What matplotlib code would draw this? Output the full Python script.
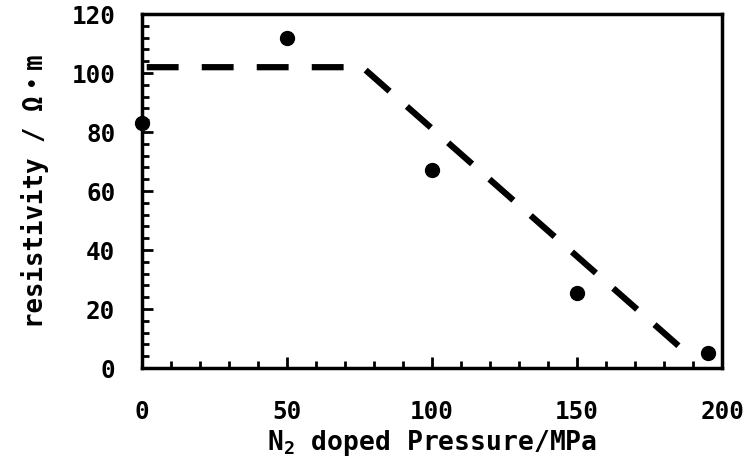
import matplotlib
matplotlib.use("Agg")
import matplotlib.pyplot as plt
from matplotlib.ticker import MultipleLocator

plt.rcParams['font.family'] = ['DejaVu Sans Mono', 'Noto Sans CJK JP']
plt.rcParams['font.weight'] = 'bold'
plt.rcParams['mathtext.fontset'] = 'custom'
plt.rcParams['mathtext.rm'] = 'DejaVu Sans Mono:bold'
plt.rcParams['mathtext.bf'] = 'DejaVu Sans Mono:bold'
plt.rcParams['mathtext.it'] = 'DejaVu Sans Mono:bold'

pressure = [0, 50, 100, 150, 195]
resistivity = [83, 112, 67, 25.5, 5]
trend_x = [0, 76, 189]
trend_y = [102, 102, 4]

fig = plt.figure(figsize=(7.5, 4.7), dpi=100)
ax = fig.add_axes([0.189, 0.217, 0.774, 0.753])

ax.plot(trend_x, trend_y, color='black', lw=4.5, linestyle=(8.0, (5.1, 3.7)),
        dash_capstyle='butt', clip_on=False)
ax.plot(pressure, resistivity, 'o', color='black', ms=10, clip_on=False, zorder=5)

ax.set_xlim(0, 200)
ax.set_ylim(0, 120)
ax.xaxis.set_major_locator(MultipleLocator(50))
ax.xaxis.set_minor_locator(MultipleLocator(10))
ax.yaxis.set_major_locator(MultipleLocator(20))
ax.yaxis.set_minor_locator(MultipleLocator(4))

for s in ax.spines.values():
    s.set_linewidth(2.5)
ax.tick_params(which='both', direction='in', width=2, labelsize=17.5)
ax.tick_params(which='major', length=8)
ax.tick_params(which='minor', length=5)
ax.tick_params(axis='x', which='major', pad=23)
ax.tick_params(axis='y', which='major', pad=19)
for lab in ax.get_xticklabels() + ax.get_yticklabels():
    lab.set_fontweight('bold')

ax.set_xlabel(r'N$_{2}$ doped Pressure/MPa', fontsize=19, fontweight='bold', labelpad=3)
ax.set_ylabel('resistivity / Ω・m', fontsize=18.5, fontweight='bold', labelpad=16)

fig.savefig('out.png', dpi=100)
